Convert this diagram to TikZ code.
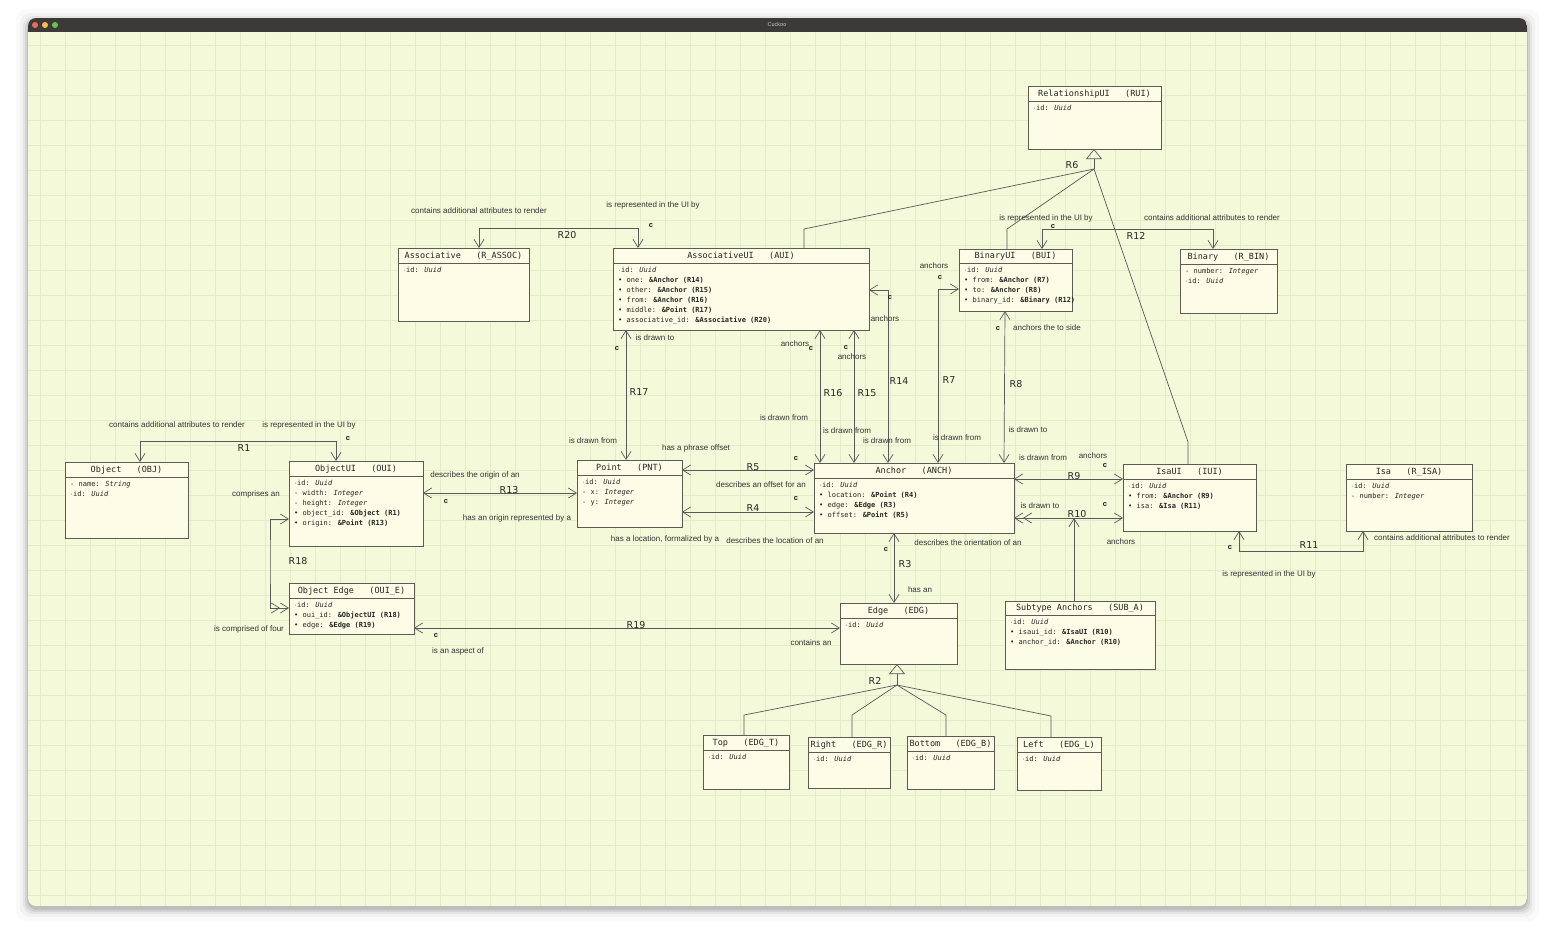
\documentclass[tikz,border=0pt]{standalone}
\usepackage{fontspec}
\setmainfont{Liberation Sans}
\newfontfamily\monofont{DejaVu Sans Mono}
\newfontfamily\relfont{DejaVu Sans}
\usetikzlibrary{arrows.meta}

\definecolor{canvasbg}{HTML}{F3F9D9}
\definecolor{gridcol}{HTML}{E3ECC8}
\definecolor{boxbg}{HTML}{FDFCE6}
\definecolor{boxline}{HTML}{5C5C55}
\definecolor{barcol}{HTML}{3D3936}
\definecolor{lightred}{HTML}{EC6A5E}
\definecolor{lightyellow}{HTML}{F4BF4F}
\definecolor{lightgreen}{HTML}{61C554}

\newcommand\attrid{{\color{black!30}\scalebox{0.7}{\textbullet}}id: \textit{Uuid}}
\newcommand\attrref[2]{\textbullet\ #1: \textbf{#2}}
\newcommand\attrval[2]{-\ #1: \textit{#2}}

\begin{document}
\begin{tikzpicture}[x=1pt, y=-1pt,
  >={Straight Barb[length=8pt,width=10pt]},
  umlbox/.style={draw=boxline, fill=boxbg, line width=0.8pt, anchor=north west, outer sep=0pt, inner sep=0pt},
  umlline/.style={draw=boxline, line width=0.8pt},
  umltitle/.style={font=\monofont\fontsize{8.5}{10}\selectfont, text=black!85, inner sep=0pt},
  umlattr/.style={font=\monofont\fontsize{7}{10}\selectfont, text=black!85, anchor=north west, align=left, inner sep=0pt},
  rel/.style={draw=black!65, line width=0.7pt},
  gen/.style={rel, -{Triangle[open, length=10pt, width=16pt]}},
  lbl/.style={font=\fontsize{8}{9}\selectfont, text=black!80, inner sep=0pt},
  rnum/.style={font=\relfont\fontsize{9.5}{11}\selectfont, text=black!85, inner sep=0pt},
  cmark/.style={font=\bfseries\fontsize{7.5}{9}\selectfont, text=black!90, inner sep=0pt}]
\useasboundingbox (0,0) rectangle (1555,943);
\fill[white] (0,0) rectangle (1555,943);
% window and shadow
\foreach \s/\o in {1/0.10, 3/0.07, 5/0.05, 8/0.03, 12/0.02}
  \fill[black, opacity=\o, rounded corners=10] (28-\s,21-\s) rectangle (1527+\s,909+\s);
\begin{scope}
\clip[rounded corners=8] (28,18) rectangle (1527,906);
\fill[canvasbg] (28,18) rectangle (1527,906);
\foreach \gx in {40,65,...,1527} \draw[gridcol, line width=0.4pt] (\gx,32) -- (\gx,906);
\foreach \gy in {45,70,...,906} \draw[gridcol, line width=0.4pt] (28,\gy) -- (1527,\gy);
\fill[barcol] (28,18) rectangle (1527,32);
\end{scope}
\fill[lightred] (35,25) circle (3);
\fill[lightyellow] (45,25) circle (3);
\fill[lightgreen] (55,25) circle (3);
\node[font=\fontsize{5.5}{6}\selectfont, text=black!20] (wintitle) at (777,25) {Cuckoo};

% classes
\node[umlbox, minimum width=133, minimum height=63] (rui) at (1028,86) {};
\draw[umlline] ([yshift=-15pt]rui.north west) -- ([yshift=-15pt]rui.north east);
\node[umltitle] (rui-t) at ([yshift=-8pt]rui.north) {RelationshipUI~~~(RUI)};
\node[umlattr] (rui-a) at ([shift={(5pt,-19pt)}]rui.north west) {\attrid};

\node[umlbox, minimum width=131, minimum height=73] (assoc) at (398,248) {};
\draw[umlline] ([yshift=-15pt]assoc.north west) -- ([yshift=-15pt]assoc.north east);
\node[umltitle] (assoc-t) at ([yshift=-8pt]assoc.north) {Associative~~~(R\_ASSOC)};
\node[umlattr] (assoc-a) at ([shift={(5pt,-19pt)}]assoc.north west) {\attrid};

\node[umlbox, minimum width=256, minimum height=82] (aui) at (613,248) {};
\draw[umlline] ([yshift=-15pt]aui.north west) -- ([yshift=-15pt]aui.north east);
\node[umltitle] (aui-t) at ([yshift=-8pt]aui.north) {AssociativeUI~~~(AUI)};
\node[umlattr] (aui-a) at ([shift={(5pt,-19pt)}]aui.north west) {\attrid\\
  \attrref{one}{\&Anchor (R14)}\\
  \attrref{other}{\&Anchor (R15)}\\
  \attrref{from}{\&Anchor (R16)}\\
  \attrref{middle}{\&Point (R17)}\\
  \attrref{associative\_id}{\&Associative (R20)}};

\node[umlbox, minimum width=113, minimum height=62] (bui) at (959,249) {};
\draw[umlline] ([yshift=-14pt]bui.north west) -- ([yshift=-14pt]bui.north east);
\node[umltitle] (bui-t) at ([yshift=-7.5pt]bui.north) {BinaryUI~~~(BUI)};
\node[umlattr] (bui-a) at ([shift={(5pt,-18pt)}]bui.north west) {\attrid\\
  \attrref{from}{\&Anchor (R7)}\\
  \attrref{to}{\&Anchor (R8)}\\
  \attrref{binary\_id}{\&Binary (R12)}};

\node[umlbox, minimum width=97, minimum height=64] (rbin) at (1180,249) {};
\draw[umlline] ([yshift=-15pt]rbin.north west) -- ([yshift=-15pt]rbin.north east);
\node[umltitle] (rbin-t) at ([yshift=-8pt]rbin.north) {Binary~~~(R\_BIN)};
\node[umlattr] (rbin-a) at ([shift={(5pt,-19pt)}]rbin.north west) {\attrval{number}{Integer}\\ \attrid};

\node[umlbox, minimum width=123, minimum height=76] (obj) at (65,462) {};
\draw[umlline] ([yshift=-15pt]obj.north west) -- ([yshift=-15pt]obj.north east);
\node[umltitle] (obj-t) at ([yshift=-8pt]obj.north) {Object~~~(OBJ)};
\node[umlattr] (obj-a) at ([shift={(5pt,-19pt)}]obj.north west) {\attrval{name}{String}\\ \attrid};

\node[umlbox, minimum width=134, minimum height=85] (oui) at (289,461) {};
\draw[umlline] ([yshift=-15pt]oui.north west) -- ([yshift=-15pt]oui.north east);
\node[umltitle] (oui-t) at ([yshift=-8pt]oui.north) {ObjectUI~~~(OUI)};
\node[umlattr] (oui-a) at ([shift={(5pt,-19pt)}]oui.north west) {\attrid\\
  \attrval{width}{Integer}\\
  \attrval{height}{Integer}\\
  \attrref{object\_id}{\&Object (R1)}\\
  \attrref{origin}{\&Point (R13)}};

\node[umlbox, minimum width=105, minimum height=67] (pnt) at (577,460) {};
\draw[umlline] ([yshift=-15pt]pnt.north west) -- ([yshift=-15pt]pnt.north east);
\node[umltitle] (pnt-t) at ([yshift=-8pt]pnt.north) {Point~~~(PNT)};
\node[umlattr] (pnt-a) at ([shift={(5pt,-19pt)}]pnt.north west) {\attrid\\
  \attrval{x}{Integer}\\
  \attrval{y}{Integer}};

\node[umlbox, minimum width=200, minimum height=70] (anch) at (814,463) {};
\draw[umlline] ([yshift=-15pt]anch.north west) -- ([yshift=-15pt]anch.north east);
\node[umltitle] (anch-t) at ([yshift=-8pt]anch.north) {Anchor~~~(ANCH)};
\node[umlattr] (anch-a) at ([shift={(5pt,-19pt)}]anch.north west) {\attrid\\
  \attrref{location}{\&Point (R4)}\\
  \attrref{edge}{\&Edge (R3)}\\
  \attrref{offset}{\&Point (R5)}};

\node[umlbox, minimum width=133, minimum height=67] (iui) at (1123,464) {};
\draw[umlline] ([yshift=-15pt]iui.north west) -- ([yshift=-15pt]iui.north east);
\node[umltitle] (iui-t) at ([yshift=-8pt]iui.north) {IsaUI~~~(IUI)};
\node[umlattr] (iui-a) at ([shift={(5pt,-19pt)}]iui.north west) {\attrid\\
  \attrref{from}{\&Anchor (R9)}\\
  \attrref{isa}{\&Isa (R11)}};

\node[umlbox, minimum width=126, minimum height=67] (risa) at (1346,464) {};
\draw[umlline] ([yshift=-15pt]risa.north west) -- ([yshift=-15pt]risa.north east);
\node[umltitle] (risa-t) at ([yshift=-8pt]risa.north) {Isa~~~(R\_ISA)};
\node[umlattr] (risa-a) at ([shift={(5pt,-19pt)}]risa.north west) {\attrid\\ \attrval{number}{Integer}};

\node[umlbox, minimum width=125, minimum height=51] (oue) at (289,583) {};
\draw[umlline] ([yshift=-15pt]oue.north west) -- ([yshift=-15pt]oue.north east);
\node[umltitle] (oue-t) at ([yshift=-8pt]oue.north) {Object Edge~~~(OUI\_E)};
\node[umlattr] (oue-a) at ([shift={(5pt,-19pt)}]oue.north west) {\attrid\\
  \attrref{oui\_id}{\&ObjectUI (R18)}\\
  \attrref{edge}{\&Edge (R19)}};

\node[umlbox, minimum width=117, minimum height=61] (edg) at (840,603) {};
\draw[umlline] ([yshift=-15pt]edg.north west) -- ([yshift=-15pt]edg.north east);
\node[umltitle] (edg-t) at ([yshift=-8pt]edg.north) {Edge~~~(EDG)};
\node[umlattr] (edg-a) at ([shift={(5pt,-19pt)}]edg.north west) {\attrid};

\node[umlbox, minimum width=150, minimum height=68] (suba) at (1005,601) {};
\draw[umlline] ([yshift=-14pt]suba.north west) -- ([yshift=-14pt]suba.north east);
\node[umltitle] (suba-t) at ([yshift=-7.5pt]suba.north) {Subtype Anchors~~~(SUB\_A)};
\node[umlattr] (suba-a) at ([shift={(5pt,-18pt)}]suba.north west) {\attrid\\
  \attrref{isaui\_id}{\&IsaUI (R10)}\\
  \attrref{anchor\_id}{\&Anchor (R10)}};

\node[umlbox, minimum width=86, minimum height=54] (edgt) at (703,735) {};
\draw[umlline] ([yshift=-15pt]edgt.north west) -- ([yshift=-15pt]edgt.north east);
\node[umltitle] (edgt-t) at ([yshift=-8pt]edgt.north) {Top~~~(EDG\_T)};
\node[umlattr] (edgt-a) at ([shift={(5pt,-19pt)}]edgt.north west) {\attrid};

\node[umlbox, minimum width=82, minimum height=51] (edgr) at (808,737) {};
\draw[umlline] ([yshift=-15pt]edgr.north west) -- ([yshift=-15pt]edgr.north east);
\node[umltitle] (edgr-t) at ([yshift=-8pt]edgr.north) {Right~~~(EDG\_R)};
\node[umlattr] (edgr-a) at ([shift={(5pt,-19pt)}]edgr.north west) {\attrid};

\node[umlbox, minimum width=87, minimum height=53] (edgb) at (907,736) {};
\draw[umlline] ([yshift=-15pt]edgb.north west) -- ([yshift=-15pt]edgb.north east);
\node[umltitle] (edgb-t) at ([yshift=-8pt]edgb.north) {Bottom~~~(EDG\_B)};
\node[umlattr] (edgb-a) at ([shift={(5pt,-19pt)}]edgb.north west) {\attrid};

\node[umlbox, minimum width=84, minimum height=53] (edgl) at (1017,737) {};
\draw[umlline] ([yshift=-15pt]edgl.north west) -- ([yshift=-15pt]edgl.north east);
\node[umltitle] (edgl-t) at ([yshift=-8pt]edgl.north) {Left~~~(EDG\_L)};
\node[umlattr] (edgl-a) at ([shift={(5pt,-19pt)}]edgl.north west) {\attrid};

% generalisations
\coordinate (r6) at (1094,169);
\draw[gen] (r6) -- (1094,0 |- rui.south);
\draw[rel] (r6) -- (804,229) -- (804,0 |- aui.north);
\draw[rel] (r6) -- (1007,229) -- (1007,0 |- bui.north);
\draw[rel] (r6) -- (1188,442) -- (1188,0 |- iui.north);
\node[rnum] (r6-n) at (1072,165) {R6};

\coordinate (r2) at (897,685);
\draw[gen] (r2) -- (897,0 |- edg.south);
\draw[rel] (r2) -- (744,715) -- (744,0 |- edgt.north);
\draw[rel] (r2) -- (852,715) -- (852,0 |- edgr.north);
\draw[rel] (r2) -- (946,715) -- (946,0 |- edgb.north);
\draw[rel] (r2) -- (1051,716) -- (1051,0 |- edgl.north);
\node[rnum] (r2-n) at (875,681) {R2};

% associations
\draw[rel,<->] (638,0 |- aui.north) |- (479,228) -| (479,0 |- assoc.north);
\node[lbl] (r20-a) at (479,211) {contains additional attributes to render};
\node[lbl] (r20-b) at (653,205) {is represented in the UI by};
\node[cmark] (r20-c) at (651,226) {c};
\node[rnum] (r20-n) at (567,235) {R20};

\draw[rel,<->] (1042,0 |- bui.north) |- (1213,229) -| (1213,0 |- rbin.north);
\node[lbl] (r12-a) at (1046,218) {is represented in the UI by};
\node[cmark] (r12-c) at (1053,227) {c};
\node[lbl] (r12-b) at (1212,218) {contains additional attributes to render};
\node[rnum] (r12-n) at (1136,236) {R12};

\draw[rel,<->] (336,0 |- oui.north) |- (140,441) -| (140,0 |- obj.north);
\node[lbl] (r1-a) at (177,425) {contains additional attributes to render};
\node[lbl] (r1-b) at (309,425) {is represented in the UI by};
\node[cmark] (r1-c) at (348,439) {c};
\node[rnum] (r1-n) at (244,448) {R1};

\draw[rel,<->] (oui.east |- 0,493) -- (pnt.west |- 0,493);
\node[lbl] (r13-a) at (475,475) {describes the origin of an};
\node[rnum] (r13-n) at (509,490) {R13};
\node[cmark] (r13-c) at (446,502) {c};
\node[lbl] (r13-b) at (517,518) {has an origin represented by a};

\draw[rel,<->>] (oui.west |- 0,519) -| (270,560) |- (oue.west |- 0,608);
\node[lbl] (r18-a) at (256,494) {comprises an};
\node[rnum] (r18-n) at (298,561) {R18};
\node[lbl] (r18-b) at (249,629) {is comprised of four};

\draw[rel,<->] (oue.east |- 0,628) -- (edg.west |- 0,628);
\node[rnum] (r19-n) at (636,625) {R19};
\node[cmark] (r19-c) at (436,636) {c};
\node[lbl] (r19-a) at (458,651) {is an aspect of};
\node[lbl] (r19-b) at (811,643) {contains an};

\draw[rel,<->] (626,0 |- aui.south) -- (626,0 |- pnt.north);
\node[lbl] (r17-a) at (655,338) {is drawn to};
\node[cmark] (r17-c) at (617,349) {c};
\node[rnum] (r17-n) at (639,392) {R17};
\node[lbl] (r17-b) at (593,441) {is drawn from};

\draw[rel,<->] (pnt.east |- 0,470) -- (anch.west |- 0,470);
\node[lbl] (r5-a) at (696,448) {has a phrase offset};
\node[cmark] (r5-c) at (796,459) {c};
\node[rnum] (r5-n) at (753,467) {R5};
\node[lbl] (r5-b) at (761,485) {describes an offset for an};

\draw[rel,<->] (pnt.east |- 0,512) -- (anch.west |- 0,512);
\node[cmark] (r4-c) at (796,499) {c};
\node[rnum] (r4-n) at (753,508) {R4};
\node[lbl] (r4-a) at (665,539) {has a location, formalized by a};
\node[lbl] (r4-b) at (775,541) {describes the location of an};

\draw[rel,<->] (820,0 |- aui.south) -- (820,0 |- anch.north);
\node[lbl] (r16-a) at (795,344) {anchors};
\node[cmark] (r16-c) at (811,349) {c};
\node[rnum] (r16-n) at (833,393) {R16};
\node[lbl] (r16-b) at (784,418) {is drawn from};

\draw[rel,<->] (854,0 |- aui.south) -- (854,0 |- anch.north);
\node[cmark] (r15-c) at (846,348) {c};
\node[lbl] (r15-a) at (852,357) {anchors};
\node[rnum] (r15-n) at (867,393) {R15};
\node[lbl] (r15-b) at (847,431) {is drawn from};

\draw[rel,<->] (aui.east |- 0,290) -| (888,0 |- anch.north);
\node[cmark] (r14-c) at (890,298) {c};
\node[lbl] (r14-a) at (885,319) {anchors};
\node[rnum] (r14-n) at (899,381) {R14};
\node[lbl] (r14-b) at (887,441) {is drawn from};

\draw[rel,<->] (bui.west |- 0,289) -| (938,0 |- anch.north);
\node[lbl] (r7-a) at (934,266) {anchors};
\node[cmark] (r7-c) at (940,278) {c};
\node[rnum] (r7-n) at (949,380) {R7};
\node[lbl] (r7-b) at (957,438) {is drawn from};

\draw[rel,<->] (1005,0 |- bui.south) -- (1004,0 |- anch.north);
\node[cmark] (r8-c) at (998,329) {c};
\node[lbl] (r8-a) at (1047,328) {anchors the to side};
\node[rnum] (r8-n) at (1016,384) {R8};
\node[lbl] (r8-b) at (1028,430) {is drawn to};

\draw[rel,<->] (anch.east |- 0,479) -- (iui.west |- 0,479);
\node[lbl] (r9-a) at (1043,458) {is drawn from};
\node[lbl] (r9-b) at (1093,456) {anchors};
\node[cmark] (r9-c) at (1105,466) {c};
\node[rnum] (r9-n) at (1074,476) {R9};

\draw[rel,<<->] (anch.east |- 0,518) -- (iui.west |- 0,518);
\coordinate (r10) at (1074,518);
\draw[rel,->] (1074,0 |- suba.north) -- (r10);
\node[lbl] (r10-a) at (1040,506) {is drawn to};
\node[rnum] (r10-n) at (1077,514) {R10};
\node[cmark] (r10-c) at (1105,505) {c};
\node[lbl] (r10-b) at (1121,542) {anchors};

\draw[rel,<->] (894,0 |- anch.south) -- (894,0 |- edg.north);
\node[cmark] (r3-c) at (886,550) {c};
\node[rnum] (r3-n) at (905,564) {R3};
\node[lbl] (r3-a) at (920,590) {has an};
\node[lbl] (r3-b) at (968,543) {describes the orientation of an};

\draw[rel,<->] (1239,0 |- iui.south) |- (1363,551) -| (1363,0 |- risa.south);
\node[cmark] (r11-c) at (1230,548) {c};
\node[rnum] (r11-n) at (1309,545) {R11};
\node[lbl] (r11-a) at (1442,538) {contains additional attributes to render};
\node[lbl] (r11-b) at (1269,574) {is represented in the UI by};
\end{tikzpicture}
\end{document}
